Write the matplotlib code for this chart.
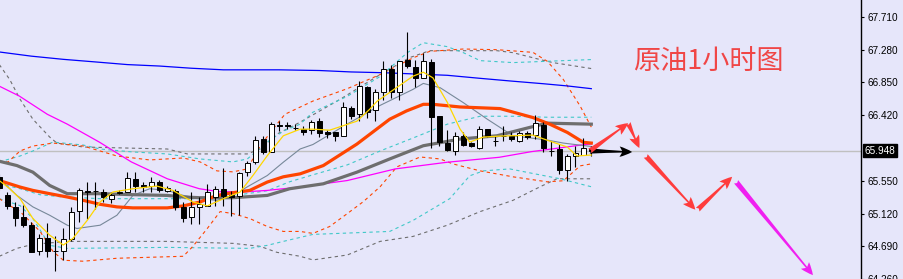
import matplotlib
matplotlib.use("Agg")
import matplotlib.pyplot as plt
from matplotlib.patches import FancyArrowPatch

# --- candles (1h crude oil), index 0..74
opens = [65.605, 65.369, 65.213, 65.082, 64.977, 64.624, 64.794, 64.624, 64.624, 64.781,
         65.160, 65.422, 65.422, 65.409, 65.317, 65.396, 65.409, 65.579, 65.500, 65.487,
         65.539, 65.422, 65.422, 65.213, 65.082, 65.213, 65.226, 65.343, 65.448, 65.369,
         65.356, 65.670, 65.801, 66.102, 65.932, 66.285, 66.285, 66.245, 66.232, 66.219,
         66.337, 66.193, 66.193, 66.141, 66.507, 66.428, 66.782, 66.481, 66.716, 67.030,
         66.716, 67.148, 67.056, 66.899, 67.121, 66.402, 66.049, 65.945, 66.141, 66.049,
         65.984, 66.232, 66.075, 66.141, 66.141, 66.075, 66.180, 66.154, 66.285, 65.945,
         65.971, 65.696, 65.879, 65.892, 65.984]
highs = [65.644, 65.409, 65.278, 65.239, 65.016, 64.847, 65.003, 64.820, 64.925, 65.213,
         65.461, 65.539, 65.539, 65.448, 65.409, 65.435, 65.670, 65.670, 65.539, 65.605,
         65.566, 65.487, 65.448, 65.278, 65.409, 65.343, 65.513, 65.487, 65.722, 65.422,
         65.670, 65.814, 66.141, 66.141, 66.324, 66.337, 66.324, 66.298, 66.272, 66.350,
         66.376, 66.219, 66.193, 66.585, 66.533, 66.860, 66.795, 66.755, 67.134, 67.082,
         67.134, 67.514, 67.148, 67.239, 67.161, 66.402, 66.219, 66.193, 66.193, 66.062,
         66.272, 66.232, 66.141, 66.272, 66.193, 66.206, 66.206, 66.415, 66.324, 66.075,
         66.036, 65.906, 66.010, 66.115, 66.010]
lows = [65.435, 65.186, 64.951, 64.938, 64.611, 64.572, 64.546, 64.363, 64.507, 64.755,
        65.016, 65.056, 65.186, 65.278, 65.265, 65.383, 65.409, 65.409, 65.409, 65.409,
        65.409, 65.409, 65.173, 65.016, 64.990, 64.990, 65.226, 65.226, 65.226, 65.095,
        65.108, 65.618, 65.775, 65.906, 65.932, 66.206, 66.232, 66.219, 66.154, 66.167,
        66.128, 66.115, 66.075, 66.141, 66.363, 66.337, 66.376, 66.337, 66.612, 66.638,
        66.612, 67.043, 66.782, 66.899, 65.984, 66.010, 65.945, 65.892, 66.010, 65.997,
        65.971, 66.128, 66.010, 66.075, 66.075, 66.062, 66.102, 66.102, 65.932, 65.879,
        65.644, 65.553, 65.736, 65.892, 65.879]
closes = [65.461, 65.226, 65.069, 64.977, 64.611, 64.794, 64.624, 64.630, 64.781, 65.147,
          65.435, 65.409, 65.420, 65.343, 65.369, 65.409, 65.592, 65.487, 65.474, 65.539,
          65.435, 65.461, 65.213, 65.069, 65.213, 65.252, 65.409, 65.448, 65.356, 65.343,
          65.657, 65.788, 66.089, 65.932, 66.298, 66.272, 66.272, 66.245, 66.193, 66.324,
          66.180, 66.167, 66.141, 66.520, 66.402, 66.795, 66.455, 66.716, 67.030, 66.716,
          67.134, 67.069, 66.899, 67.134, 66.389, 66.062, 65.958, 66.141, 66.023, 66.010,
          66.232, 66.141, 66.070, 66.140, 66.102, 66.180, 66.128, 66.311, 65.984, 65.940,
          65.696, 65.879, 65.919, 65.984, 65.948]
last_price = 65.948

# --- moving averages (at a few bars)
blue_x = [0, 4, 8, 12, 16, 20, 24, 28, 35, 40, 44, 48, 52, 56, 60, 64, 68, 71, 74]
blue_y = [67.248, 67.193, 67.151, 67.117, 67.082, 67.063, 67.034, 67.013, 67.013, 67.004,
          66.985, 66.975, 66.958, 66.941, 66.902, 66.865, 66.830, 66.801, 66.765]

magenta_x = [0, 2.5, 6, 8.5, 12.5, 16.5, 21, 25, 27.5, 31, 33.5, 37.5, 43.5, 49.5, 56,
             62.5, 66.5, 69, 73, 74]
magenta_y = [66.798, 66.668, 66.428, 66.298, 66.062, 65.801, 65.579, 65.448, 65.409, 65.409,
             65.426, 65.470, 65.556, 65.709, 65.797, 65.862, 65.936, 65.971, 66.027, 66.036]

orange_x = [0, 2.6, 4.2, 6.3, 8.5, 10.5, 12.6, 14.7, 16.7, 21, 23, 25.1, 27.2, 29.2, 31.3,
            33.5, 35.5, 37.6, 40.5, 44.7, 48.8, 50.9, 53, 54.2, 57.6, 62.6, 66.7, 68.8,
            71, 73, 74]
orange_y = [65.556, 65.470, 65.426, 65.383, 65.339, 65.295, 65.243, 65.209, 65.196, 65.196,
            65.222, 65.274, 65.360, 65.396, 65.426, 65.536, 65.605, 65.644, 65.753, 66.036,
            66.363, 66.472, 66.559, 66.559, 66.524, 66.503, 66.385, 66.298, 66.189,
            66.059, 66.049]

dgray_x = [0, 2.2, 4.2, 6.3, 8.5, 12.6, 16.7, 21, 23, 25.1, 29.2, 33.5, 36.3, 40.5, 44.7,
           48.8, 53, 57.6, 62.2, 66.3, 68.5, 74]
dgray_y = [65.810, 65.753, 65.666, 65.491, 65.383, 65.383, 65.370, 65.360, 65.339, 65.330,
           65.330, 65.360, 65.448, 65.513, 65.666, 65.840, 66.014, 66.102, 66.145, 66.255,
           66.311, 66.298]

tgray_x = [0, 2.2, 4.2, 6.3, 8.5, 9.7, 12.6, 14.7, 16.7, 18.8, 21, 23, 25.1, 27.2, 29.2,
           31.3, 33.5, 35.5, 37.6, 39.2, 43.5, 47.6, 51.7, 53, 55.1, 58, 61, 64.2, 68.5,
           70.5, 74]
tgray_y = [65.579, 65.360, 65.209, 65.099, 64.968, 64.925, 64.968, 65.099, 65.360, 65.448,
           65.426, 65.360, 65.317, 65.295, 65.360, 65.491, 65.622, 65.797, 65.971, 66.030,
           66.300, 66.545, 66.755, 66.834, 66.778, 66.581, 66.363, 66.145, 66.089, 66.049,
           66.004]

yellow_x = [0, 1.3, 2.6, 4.2, 6.3, 8, 9.2, 11, 12.6, 14.2, 16.7, 19.7, 21.7, 24.2, 26,
            28.5, 30.1, 31.7, 33.5, 35.5, 37.6, 39.2, 41.3, 44.7, 46.3, 47.2, 49.7, 51.7,
            53, 54.2, 56, 57.6, 58.8, 60.5, 62.6, 66.7, 68.8, 71, 72.2, 74]
yellow_y = [65.556, 65.448, 65.317, 65.056, 64.837, 64.707, 64.794, 65.033, 65.274, 65.405,
            65.448, 65.483, 65.426, 65.274, 65.222, 65.339, 65.405, 65.622, 65.883, 66.145,
            66.232, 66.232, 66.219, 66.337, 66.494, 66.598, 66.782, 66.929, 66.982, 66.908,
            66.585, 66.232, 66.062, 66.128, 66.141, 66.154, 66.075, 65.997, 65.879, 65.892]

# --- bands (dashed)
ob_up_x = [0, 1.1, 2.6, 4.2, 6.7, 10.5, 12.6, 14.7, 18.8, 23, 25.1, 27.2, 29.2, 31, 32.6,
           34.2, 35.7, 39.2, 43.5, 47.6, 51.7, 53.8, 58, 62.2, 66.7, 68.5, 70.5, 72.6, 74]
ob_up_y = [65.801, 65.801, 65.945, 66.010, 66.049, 66.010, 65.945, 65.879, 65.827, 65.853,
           65.801, 65.683, 65.670, 65.709, 66.010, 66.232, 66.428, 66.602, 66.765, 66.951,
           67.170, 67.256, 67.287, 67.278, 67.243, 67.125, 66.886, 66.537, 66.259]
ob_lo_x = [0, 1.3, 2.6, 5.1, 6.7, 8, 10.5, 14.7, 23, 24.2, 26, 27.6, 29.2, 31.3, 33.5,
           35.5, 37.6, 39.2, 41.3, 43.5, 45.5, 47.6, 49.7, 52.6, 55.1, 56.7, 60.1, 64.2,
           68.5, 70.5, 72.6, 74]
ob_lo_y = [65.317, 65.226, 65.147, 64.886, 64.624, 64.507, 64.494, 64.533, 64.559, 64.690,
           64.925, 65.147, 65.121, 65.056, 64.951, 64.886, 64.886, 64.860, 64.951, 65.121,
           65.278, 65.474, 65.736, 65.866, 65.840, 65.775, 65.683, 65.605, 65.539, 65.553,
           65.749, 65.775]

cb_up_x = [0, 2.6, 4.2, 6.7, 10.5, 12.6, 16.7, 21, 25.1, 29.2, 31, 33.5, 35.5, 37.6, 39.2,
           43.5, 47.6, 51, 53, 56, 58, 60.1, 64.2, 74]
cb_up_y = [65.801, 65.879, 65.945, 66.062, 66.023, 65.971, 65.932, 65.906, 65.840, 65.801,
           65.840, 66.062, 66.206, 66.298, 66.455, 66.664, 66.925, 67.239, 67.370, 67.318,
           67.239, 67.134, 67.108, 67.148]
cb_mid_x = [0, 2.6, 5.1, 7.6, 12.6, 21, 26, 29.2, 33.5, 36.3, 39.2, 43.5, 47.6, 51.7, 56,
            60.1, 64.2, 68.5, 74]
cb_mid_y = [65.513, 65.448, 65.369, 65.343, 65.317, 65.317, 65.317, 65.356, 65.422, 65.540,
            65.631, 65.762, 65.945, 66.115, 66.298, 66.402, 66.402, 66.389, 66.389]
cb_lo_x = [0, 2.6, 4.2, 6.3, 8.5, 21, 31.3, 33.5, 35.5, 39.2, 48.8, 51.7, 56.3, 58.8, 60.5,
           63.8, 66.3, 70.1, 74]
cb_lo_y = [65.317, 65.226, 65.056, 64.703, 64.663, 64.676, 64.663, 64.703, 64.755, 64.847,
           64.886, 65.030, 65.317, 65.618, 65.683, 65.709, 65.657, 65.579, 65.474]

gb_up_x = [0, 1.3, 2.6, 4.2, 6.3, 7.2, 10.5, 21, 23.5, 31, 32.6, 34.7, 37.6, 42.6, 47.6,
           51.3, 53.8, 62.2, 64.2, 67.6, 69.2, 74]
gb_up_y = [67.082, 66.886, 66.625, 66.363, 66.128, 66.049, 65.997, 65.971, 65.906, 65.906,
           65.971, 66.167, 66.324, 66.625, 66.951, 67.174, 67.265, 67.265, 67.239, 67.148,
           67.108, 67.030]
gb_lo_x = [0, 2.2, 4.2, 8.5, 21, 29.2, 32.6, 34.7, 37.6, 39.2, 43.5, 47.6, 51.7, 56, 60.1,
           64.2, 67.6, 69.7, 74]
gb_lo_y = [64.559, 64.663, 64.716, 64.755, 64.755, 64.729, 64.690, 64.611, 64.559, 64.511,
           64.576, 64.755, 64.820, 64.968, 65.147, 65.295, 65.474, 65.579, 65.579]

# --- forecast arrows drawn on the chart
arrow_x0 = [73.8, 73.8, 78.6, 80.8, 87.3, 92.1]
arrow_y0 = [65.945, 65.945, 66.311, 65.879, 65.173, 65.539]
arrow_x1 = [79.1, 78.6, 80.0, 87.0, 91.6, 101.7]
arrow_y1 = [65.932, 66.311, 65.984, 65.173, 65.605, 64.311]
arrow_colors = ["black", "#ff3c3c", "#ff3c3c", "#ff3c3c", "#ff3c3c", "#f020f0"]

yticks = [67.710, 67.280, 66.850, 66.420, 65.550, 65.120, 64.690, 64.260]
title = "原油1小时图"

bg = "#e6e6fa"
fig = plt.figure(figsize=(9.04, 2.79), dpi=100, facecolor=bg)
ax = fig.add_axes([0, 0, 861 / 904, 1], facecolor=bg)

ax.axhline(last_price, color="#c0c0c0", lw=1, zorder=1)

dash = (0, (3, 3))
ax.plot(gb_up_x, gb_up_y, color="#6e6e6e", lw=0.8, ls=dash, zorder=2)
ax.plot(gb_lo_x, gb_lo_y, color="#6e6e6e", lw=0.8, ls=dash, zorder=2)
ax.plot(cb_up_x, cb_up_y, color="#40c8c8", lw=0.8, ls=dash, zorder=2)
ax.plot(cb_mid_x, cb_mid_y, color="#40c8c8", lw=0.8, ls=dash, zorder=2)
ax.plot(cb_lo_x, cb_lo_y, color="#40c8c8", lw=0.8, ls=dash, zorder=2)
ax.plot(ob_up_x, ob_up_y, color="#ff4500", lw=0.8, ls=dash, zorder=2)
ax.plot(ob_lo_x, ob_lo_y, color="#ff4500", lw=0.8, ls=dash, zorder=2)

ax.plot(blue_x, blue_y, color="#0000ff", lw=0.9, zorder=3)
ax.plot(magenta_x, magenta_y, color="#ff00ff", lw=0.9, zorder=3)
ax.plot(tgray_x, tgray_y, color="#778899", lw=0.8, zorder=3)
ax.plot(dgray_x, dgray_y, color="#6e6e6e", lw=2.3, zorder=3)
ax.plot(orange_x, orange_y, color="#ff4500", lw=2.3, zorder=3)

# candles
idx = list(range(len(opens)))
ax.vlines(idx, lows, highs, color="black", lw=0.8, zorder=4)
bottoms = [min(o, c) for o, c in zip(opens, closes)]
heights = [abs(c - o) for o, c in zip(opens, closes)]
faces = ["white" if c >= o else "black" for o, c in zip(opens, closes)]
ax.bar(idx, heights, width=0.62, bottom=bottoms, color=faces, edgecolor="black",
       linewidth=0.7, zorder=5)

ax.plot(yellow_x, yellow_y, color="#ffd700", lw=0.9, zorder=6)

for x0, y0, x1, y1, c in zip(arrow_x0, arrow_y0, arrow_x1, arrow_y1, arrow_colors):
    ar = FancyArrowPatch((x0, y0), (x1, y1),
                         arrowstyle="fancy,head_length=0.9,head_width=0.75,tail_width=0.38",
                         mutation_scale=10, color=c, lw=0, shrinkA=0, shrinkB=0, zorder=7)
    ax.add_patch(ar)

ax.text(88.6, 67.115, title, color="#f04646", fontsize=19.5,
        family=["Noto Sans CJK SC", "DejaVu Sans"], ha="center", va="center", zorder=8)

ax.set_xlim(0.0875, 107.71)
ax.set_ylim(64.285, 67.932)
ax.set_xticks([])
ax.yaxis.tick_right()
ax.set_yticks(yticks)
ax.set_yticklabels(["%.3f" % t for t in yticks], fontsize=7.2, family="Liberation Sans")
ax.tick_params(axis="y", direction="out", length=2.5, width=0.8, pad=2)
for s in ["left", "top", "bottom"]:
    ax.spines[s].set_visible(False)
ax.spines["right"].set_linewidth(1.0)

ax.annotate("%.3f" % last_price, xy=(1, last_price), xycoords=("axes fraction", "data"),
            xytext=(2.5, 0), textcoords="offset points", ha="left", va="center",
            fontsize=7.2, family="Liberation Sans", color="white",
            bbox=dict(boxstyle="square,pad=0.15", fc="black", ec="black"),
            annotation_clip=False)

fig.savefig("out.png", dpi=100, facecolor=bg)
